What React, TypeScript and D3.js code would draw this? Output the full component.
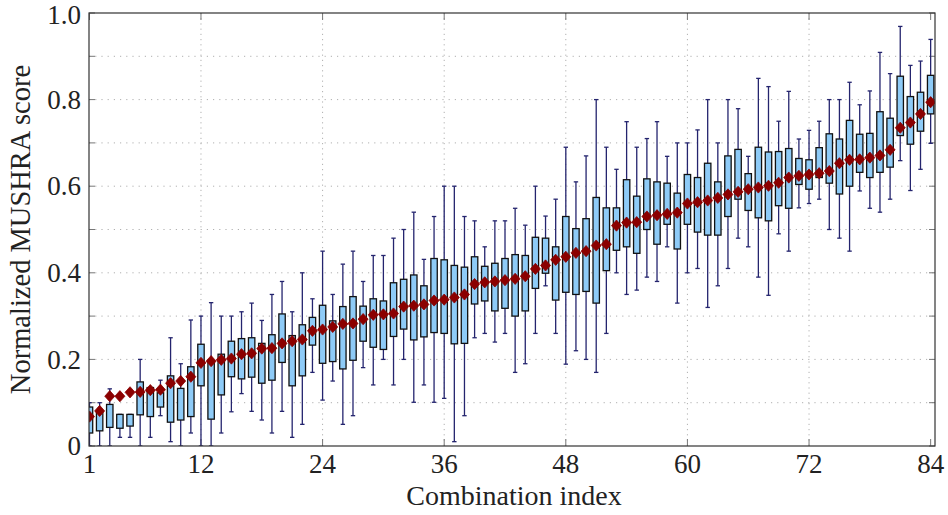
import React from "react";
import * as d3 from "d3";

const idx = d3.range(1, 85);
const lowW = [0.0,0.0,0.0,0.02,0.02,0.0,0.02,0.07,0.01,0.0,0.03,0.0,0.0,0.03,0.079,0.121,0.08,0.06,0.03,0.08,0.02,0.05,0.17,0.106,0.15,0.05,0.07,0.181,0.141,0.2,0.141,0.2,0.101,0.141,0.101,0.11,0.01,0.07,0.25,0.26,0.24,0.26,0.17,0.19,0.26,0.37,0.26,0.189,0.22,0.2,0.17,0.26,0.4,0.35,0.36,0.39,0.38,0.46,0.33,0.4,0.41,0.32,0.37,0.41,0.48,0.46,0.39,0.348,0.49,0.45,0.55,0.56,0.57,0.5,0.48,0.45,0.589,0.549,0.54,0.57,0.659,0.59,0.639,0.699];
const q1 = [0.03,0.035,0.043,0.041,0.046,0.072,0.068,0.09,0.055,0.06,0.068,0.139,0.062,0.118,0.16,0.155,0.159,0.145,0.152,0.193,0.139,0.162,0.233,0.191,0.195,0.178,0.198,0.242,0.228,0.223,0.253,0.27,0.245,0.252,0.262,0.26,0.236,0.237,0.328,0.335,0.312,0.318,0.3,0.312,0.364,0.399,0.337,0.355,0.35,0.357,0.33,0.405,0.452,0.46,0.445,0.5,0.466,0.512,0.455,0.512,0.494,0.487,0.487,0.53,0.57,0.544,0.527,0.52,0.555,0.549,0.604,0.593,0.62,0.607,0.582,0.6,0.632,0.62,0.632,0.644,0.717,0.697,0.727,0.767];
const q3 = [0.09,0.079,0.096,0.073,0.073,0.148,0.135,0.123,0.162,0.133,0.183,0.235,0.195,0.212,0.242,0.248,0.25,0.237,0.257,0.305,0.255,0.28,0.297,0.325,0.289,0.322,0.345,0.323,0.34,0.335,0.377,0.385,0.395,0.37,0.433,0.43,0.417,0.413,0.437,0.415,0.422,0.433,0.442,0.44,0.482,0.48,0.46,0.53,0.502,0.525,0.574,0.55,0.55,0.615,0.577,0.617,0.61,0.607,0.584,0.627,0.62,0.653,0.61,0.67,0.685,0.629,0.69,0.679,0.68,0.687,0.664,0.661,0.689,0.721,0.709,0.752,0.72,0.722,0.772,0.757,0.854,0.807,0.817,0.856];
const highW = [0.1,0.1,0.132,0.073,0.073,0.2,0.135,0.152,0.25,0.19,0.291,0.3,0.331,0.3,0.3,0.31,0.33,0.29,0.35,0.38,0.31,0.4,0.34,0.45,0.35,0.42,0.45,0.38,0.44,0.44,0.48,0.5,0.54,0.431,0.53,0.6,0.6,0.53,0.52,0.46,0.52,0.52,0.549,0.51,0.6,0.531,0.57,0.69,0.61,0.67,0.8,0.69,0.639,0.749,0.69,0.71,0.749,0.669,0.7,0.7,0.73,0.8,0.7,0.8,0.779,0.669,0.849,0.83,0.75,0.819,0.709,0.729,0.75,0.8,0.8,0.84,0.788,0.82,0.909,0.86,0.969,0.879,0.889,0.939];
const means = [0.068,0.081,0.115,0.115,0.124,0.125,0.129,0.13,0.145,0.15,0.16,0.192,0.196,0.199,0.202,0.212,0.214,0.225,0.226,0.237,0.242,0.246,0.266,0.269,0.275,0.282,0.283,0.293,0.303,0.304,0.306,0.322,0.324,0.327,0.336,0.338,0.343,0.35,0.374,0.378,0.38,0.383,0.386,0.392,0.409,0.417,0.43,0.437,0.446,0.45,0.463,0.466,0.509,0.516,0.517,0.53,0.533,0.536,0.539,0.56,0.563,0.567,0.573,0.581,0.587,0.593,0.597,0.601,0.608,0.62,0.624,0.627,0.63,0.635,0.653,0.661,0.662,0.666,0.671,0.684,0.735,0.747,0.767,0.794];

const xTicks = [1, 12, 24, 36, 48, 60, 72, 84];
const yTicks = [0, 0.2, 0.4, 0.6, 0.8, 1.0];
const yTickLabels = ["0", "0.2", "0.4", "0.6", "0.8", "1.0"];
const yMinor = [0.1, 0.3, 0.5, 0.7, 0.9];

export default function App() {
  const W = 948, H = 515;
  const L = 89, R = 935, T = 13, B = 446;
  const x = d3.scaleLinear().domain([1, 84.43]).range([L + 0.5, R]);
  const y = d3.scaleLinear().domain([0, 1]).range([B, T]);
  const font = "'Liberation Serif', 'Times New Roman', serif";
  const bw = 3.2;
  const cap = 2.2;
  const dw = 5.0, dh = 5.6;
  const gridY = d3.range(1, 10).map((k) => k / 10);
  const gridX = [12, 24, 36, 48, 60, 72];
  return (
    <svg width={W} height={H} style={{ position: "absolute", left: 0, top: 0, background: "#fff" }}>
      <defs>
        <clipPath id="plotclip">
          <rect x={L} y={T} width={R - L} height={B - T} />
        </clipPath>
      </defs>
      <g stroke="#b0b0b0" strokeWidth={1} strokeDasharray="1.2,5">
        {gridY.map((v) => (
          <line key={"gy" + v} x1={L} x2={R} y1={y(v)} y2={y(v)} />
        ))}
        {gridX.map((v) => (
          <line key={"gx" + v} x1={x(v)} x2={x(v)} y1={T} y2={B} strokeDasharray="1.2,4" />
        ))}
      </g>
      <g stroke="#777" strokeWidth={1}>
        {[...yTicks, ...yMinor].map((v) => (
          <g key={"yt" + v}>
            <line x1={L} x2={L + 6} y1={y(v)} y2={y(v)} />
            <line x1={R} x2={R - 6} y1={y(v)} y2={y(v)} />
          </g>
        ))}
        {xTicks.map((v) => (
          <g key={"xt" + v}>
            <line x1={x(v)} x2={x(v)} y1={B} y2={B - 7} />
            <line x1={x(v)} x2={x(v)} y1={T} y2={T + 7} />
          </g>
        ))}
      </g>
      <g clipPath="url(#plotclip)">
        {idx.map((i, k) => {
          const cx = x(i);
          return (
            <g key={"b" + i}>
              <line x1={cx} x2={cx} y1={y(lowW[k])} y2={y(highW[k])} stroke="#24246e" strokeWidth={1.3} />
              <line x1={cx - cap} x2={cx + cap} y1={y(lowW[k])} y2={y(lowW[k])} stroke="#24246e" strokeWidth={1.3} />
              <line x1={cx - cap} x2={cx + cap} y1={y(highW[k])} y2={y(highW[k])} stroke="#24246e" strokeWidth={1.3} />
              <rect x={cx - bw} y={y(q3[k])} width={bw * 2} height={y(q1[k]) - y(q3[k])} fill="#8ecbf7" stroke="#111" strokeWidth={1.3} />
            </g>
          );
        })}
        {idx.map((i, k) => {
          const cx = x(i), cy = y(means[k]);
          return (
            <path key={"m" + i} d={`M${cx},${cy - dh}L${cx + dw},${cy}L${cx},${cy + dh}L${cx - dw},${cy}Z`} fill="#8b0000" stroke="#8b0000" strokeWidth={0.8} />
          );
        })}
      </g>
      <rect x={L} y={T} width={R - L} height={B - T} fill="none" stroke="#333" strokeWidth={1.2} />
      <g fontFamily={font} fontSize={27} fill="#222">
        {yTicks.map((v, k) => (
          <text key={"yl" + v} x={L - 8} y={Math.max(y(v), 15)} dy="0.34em" textAnchor="end">{yTickLabels[k]}</text>
        ))}
        {xTicks.map((v) => (
          <text key={"xl" + v} x={x(v)} y={B + 27} textAnchor="middle">{v}</text>
        ))}
        <text x={(L + R) / 2 + 2} y={505} fontSize={28} textAnchor="middle">Combination index</text>
        <text transform={`translate(30,${(T + B) / 2}) rotate(-90)`} fontSize={28.5} textAnchor="middle">Normalized MUSHRA score</text>
      </g>
    </svg>
  );
}
